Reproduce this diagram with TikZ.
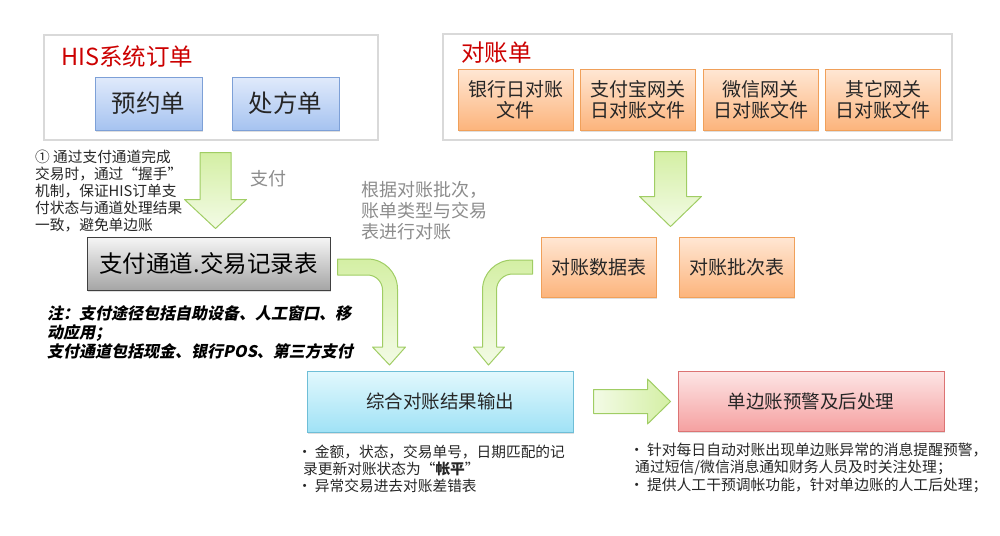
\documentclass[tikz,border=0pt]{standalone}
\usepackage{fontspec}
\setmainfont{Noto Sans CJK SC}
\newfontfamily\slantcjk{Noto Sans CJK SC}[FakeSlant=0.2]
\usetikzlibrary{positioning,calc,shadows}
\definecolor{framegray}{RGB}{217,217,217}
\definecolor{titlered}{RGB}{204,0,0}
\definecolor{bluetop}{RGB}{224,234,251}
\definecolor{bluebot}{RGB}{166,195,240}
\definecolor{blueline}{RGB}{125,160,215}
\definecolor{orangetop}{RGB}{255,231,212}
\definecolor{orangebot}{RGB}{252,180,124}
\definecolor{orangeline}{RGB}{240,160,90}
\definecolor{graytop}{RGB}{246,246,246}
\definecolor{graybot}{RGB}{165,165,165}
\definecolor{grayline}{RGB}{64,64,64}
\definecolor{cyantop}{RGB}{226,248,253}
\definecolor{cyanbot}{RGB}{160,226,246}
\definecolor{cyanline}{RGB}{110,190,215}
\definecolor{pinktop}{RGB}{253,229,229}
\definecolor{pinkbot}{RGB}{245,160,160}
\definecolor{pinkline}{RGB}{220,115,115}
\definecolor{greenlight}{RGB}{243,251,230}
\definecolor{greendark}{RGB}{212,239,164}
\definecolor{greenline}{RGB}{160,205,100}
\definecolor{softgray}{RGB}{140,140,140}
\definecolor{darktext}{RGB}{38,38,38}
\newcommand{\listdot}{\kern-0.4em•\kern0.2em}
\tikzset{
	%Define styles for frames and boxes
	groupframe/.style={
		rectangle,
		draw=framegray, line width=2.5pt,
		fill=white},
	grouptitle/.style={
		text=titlered,
		font={\fontsize{23.5}{27}\selectfont}},
	tablebox/.style={
		rectangle,
		line width=1pt,
		text centered,
		drop shadow={shadow xshift=0.8pt, shadow yshift=-1.6pt, opacity=0.25}},
	bluebox/.style={
		tablebox,
		draw=blueline, top color=bluetop, bottom color=bluebot,
		minimum width=107pt, minimum height=53pt,
		text=darktext, font={\fontsize{24.5}{28}\selectfont}},
	orangebox/.style={
		tablebox,
		draw=orangeline, top color=orangetop, bottom color=orangebot,
		minimum width=115pt, minimum height=61pt, align=center,
		text=darktext, font={\fontsize{19}{21}\selectfont}},
	graybox/.style={
		tablebox,
		draw=grayline, top color=graytop, bottom color=graybot,
		minimum width=243pt, minimum height=53pt,
		text=black, font={\fontsize{23.5}{27}\selectfont}},
	cyanbox/.style={
		tablebox,
		draw=cyanline, top color=cyantop, bottom color=cyanbot,
		minimum width=266pt, minimum height=61pt,
		text=darktext, font={\fontsize{18.5}{21}\selectfont}},
	pinkbox/.style={
		tablebox,
		draw=pinkline, top color=pinktop, bottom color=pinkbot,
		minimum width=266pt, minimum height=60pt,
		text=darktext, font={\fontsize{18.5}{21}\selectfont}},
	greenarrow/.style={
		draw=greenline, line width=1pt, line join=round,
		top color=greendark, bottom color=greenlight},
	notetext/.style={
		align=left, text=darktext,
		font={\fontsize{14.7}{17}\selectfont}},
	graylabel/.style={
		align=left, text=softgray,
		font={\fontsize{18}{21}\selectfont}}
}

\begin{document}
\begin{tikzpicture}[x=1pt,y=-1pt,node distance=6.5pt,every node/.style={inner sep=0pt}]
	\useasboundingbox (0,0) rectangle (1000,535);
	% HIS orders
	\node[groupframe, minimum width=334pt, minimum height=105pt] (his) at (211,87.5) {};
	\node[grouptitle, anchor=west] (histitle) at (61,57) {HIS系统订单};
	\node[bluebox] (yuyue) at (148.5,103.5) {预约单};
	\node[bluebox, right=29pt of yuyue] (chufang) {处方单};
	% statements
	\node[groupframe, minimum width=509pt, minimum height=106pt] (dz) at (697.5,87) {};
	\node[grouptitle, anchor=west] (dztitle) at (461,53) {对账单};
	\node[orangebox] (bank) at (515.5,99.5) {银行日对账\\文件};
	\node[orangebox, right=of bank] (alipay) {支付宝网关\\日对账文件};
	\node[orangebox, right=of alipay] (wechat) {微信网关\\日对账文件};
	\node[orangebox, right=of wechat] (other) {其它网关\\日对账文件};
	% tables
	\node[graybox] (paytbl) at (208.5,263.5) {支付通道.交易记录表};
	\node[orangebox, minimum height=60pt] (dzdata) at (598.5,267) {对账数据表};
	\node[orangebox, minimum height=60pt, right=22pt of dzdata] (dzbatch) {对账批次表};
	\node[cyanbox] (result) at (440,401.5) {综合对账结果输出};
	\node[pinkbox, right=104pt of result] (alert) {单边账预警及后处理};
	% notes
	\node[notetext, anchor=west] (handshake) at (35,191) {① 通过支付通道完成\\交易时，通过“握手”\\机制，保证HIS订单支\\付状态与通道处理结果\\一致，避免单边账};
	\node[graylabel] (paylabel) at (268,179) {支付};
	\node[graylabel, anchor=west] (matchnote) at (361,211) {根据对账批次，\\账单类型与交易\\表进行对账};
	\node[notetext, anchor=west, text=black, font={\fontsize{16}{19}\selectfont\slantcjk\bfseries}] (channelnote) at (47,332) {注：支付途径包括自助设备、人工窗口、移\\动应用；\\支付通道包括现金、银行POS、第三方支付};
	\node[notetext, anchor=west] (resultnote) at (303,468.5) {\listdot 金额，状态，交易单号，日期匹配的记\\录更新对账状态为“\textbf{帐平}”\\\listdot 异常交易进去对账差错表};
	\node[notetext, anchor=west, font={\fontsize{14.8}{17.5}\selectfont}] (alertnote) at (635,467.5) {\listdot 针对每日自动对账出现单边账异常的消息提醒预警，\\通过短信/微信消息通知财务人员及时关注处理；\\\listdot 提供人工干预调帐功能，针对单边账的人工后处理；};
	% block arrows
	\draw[greenarrow, shift={($(paytbl.north)+(7,-8)$)}] (0,0) -- (-31,-29) -- (-15.5,-29) -- (-15.5,-76) -- (15.5,-76) -- (15.5,-29) -- (31,-29) -- cycle;
	\draw[greenarrow, shift={($(dzdata.north east)!0.5!(dzbatch.north west)+(3,-10)$)}] (0,0) -- (-31,-30) -- (-16,-30) -- (-16,-75) -- (16,-75) -- (16,-30) -- (31,-30) -- cycle;
	\draw[greenarrow, shift={(paytbl.east)}] (7,-4.5) -- (37,-4.5) .. controls (53.6,-4.5) and (67,8.9) .. (67,25.5) -- (67,83.5) -- (75,83.5) -- (59,101.5) -- (42,83.5) -- (52,83.5) -- (52,26.5) .. controls (52,18.2) and (45.3,11.5) .. (37,11.5) -- (7,11.5) -- cycle;
	\draw[greenarrow, shift={(dzdata.west)}] (-8,-7) -- (-28,-7) .. controls (-44.6,-7) and (-58,6.4) .. (-58,23) -- (-58,80) -- (-67,80) -- (-52,98) -- (-36,80) -- (-44,80) -- (-44,23) .. controls (-44,14.2) and (-36.8,7) .. (-28,7) -- (-8,7) -- cycle;
	\draw[greenarrow, left color=greenlight, right color=greendark, shift={(result.east)}] (20,-12) -- (74,-12) -- (74,-22.5) -- (97,0) -- (74,22.5) -- (74,12) -- (20,12) -- cycle;
\end{tikzpicture}
\end{document}
